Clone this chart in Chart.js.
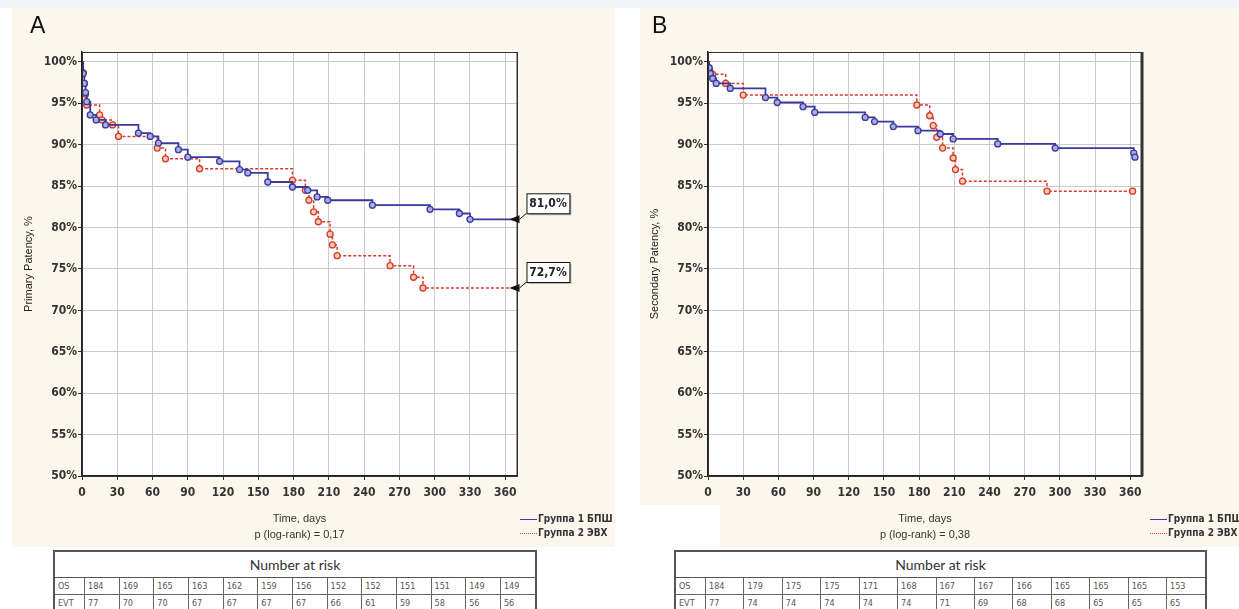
<!DOCTYPE html>
<html>
<head>
<meta charset="utf-8">
<script src="https://cdn.jsdelivr.net/npm/chart.js@4.4.1/dist/chart.umd.min.js"></script>
<style>
  body { margin: 0; width: 1239px; height: 609px; background: #fff; position: relative; overflow: hidden;
         font-family: 'Liberation Sans', Arial, sans-serif; }
  .strip { position: absolute; left: 0; top: 0; width: 1239px; height: 8px; background: #f2f4f8; }
  .panel { position: absolute; top: 8px; height: 539px; background: #fdf6ec; }
  .letter { position: absolute; top: 12px; font-size: 23px; color: #111; }
  .legend { position: absolute; top: 512px; font-family: 'Liberation Sans Narrow', 'DejaVu Sans Condensed', sans-serif;
            font-weight: bold; font-size: 10px; color: #333; white-space: nowrap; }
  .legend div { height: 14px; line-height: 14px; }
  .legend span.ln { display: inline-block; width: 17px; vertical-align: middle; margin-right: 1px; }
  table.risk { position: absolute; top: 550px; border-collapse: collapse; background: #fff;
               border: 2px solid #555; font-family: 'Liberation Sans Narrow', 'DejaVu Sans Condensed', sans-serif; }
  table.risk th { height: 25px; font-family: Lato, 'Noto Sans', sans-serif; font-weight: normal; font-size: 14px;
                  color: #333; border: 1px solid #555; padding: 0; }
  table.risk td { height: 16px; font-size: 9px; color: #555; border: 1px solid #666; padding: 0 0 0 3px; text-align: left; }
</style>
</head>
<body>
<div class="strip"></div>
<div class="panel" style="left:12px;width:603px;"><canvas id="chartA" width="603" height="539"></canvas></div>
<div class="panel" style="left:640px;width:599px;"><canvas id="chartB" width="599" height="539"></canvas></div>
<div style="position:absolute;left:640px;top:505px;width:80px;height:42px;background:#fff;"></div>
<div class="letter" style="left:30px;">A</div>
<div class="letter" style="left:652px;">B</div>
<div class="legend" id="legendA" style="left:520px;"></div>
<div class="legend" id="legendB" style="left:1150px;"></div>
<table class="risk" id="riskA" style="left:53px;width:484px;"></table>
<table class="risk" id="riskB" style="left:674px;width:533px;"></table>

<script>
// axes
const xTickValues = [0, 30, 60, 90, 120, 150, 180, 210, 240, 270, 300, 330, 360];
const yTickValues = [50, 55, 60, 65, 70, 75, 80, 85, 90, 95, 100];
const groupLabels = ['Группа 1 БПШ', 'Группа 2 ЭВХ'];

//* PANEL A - primary patency
const a1Days = [0, 1, 2, 3, 4, 7, 12, 20, 48, 58, 65, 82, 90, 117, 134, 141, 158, 179, 192, 200, 209, 247, 296, 321, 330, 367];
const a1Surv = [100, 98.6, 97.4, 96.3, 95.2, 93.6, 93.0, 92.4, 91.4, 91.0, 90.2, 89.4, 88.5, 88.0, 87.0, 86.6, 85.5, 84.9, 84.5, 83.7, 83.3, 82.7, 82.2, 81.7, 81.0, 81.0];
const a2Days = [0, 1, 2, 3, 4, 15, 17, 26, 31, 64, 71, 100, 179, 190, 193, 197, 201, 211, 213, 217, 262, 282, 290, 367];
const a2Surv = [100, 98.7, 97.4, 96.1, 94.8, 93.6, 93.0, 92.4, 91.0, 89.6, 88.3, 87.1, 85.7, 84.5, 83.3, 81.9, 80.7, 79.2, 77.9, 76.6, 75.4, 74.0, 72.7, 72.7];

//* PANEL B - secondary patency
const b1Days = [0, 1, 2, 4, 7, 19, 49, 59, 81, 91, 134, 142, 158, 179, 198, 209, 247, 296, 363, 364];
const b1Surv = [100, 99.3, 98.6, 98.0, 97.4, 96.8, 95.7, 95.1, 94.6, 93.9, 93.3, 92.8, 92.2, 91.7, 91.3, 90.7, 90.1, 89.6, 89.0, 88.5];
const b2Days = [0, 1, 2, 4, 15, 30, 178, 189, 192, 195, 200, 209, 211, 217, 289, 362];
const b2Surv = [100, 99.2, 98.8, 98.5, 97.4, 96.0, 94.8, 93.5, 92.3, 90.9, 89.6, 88.4, 87.0, 85.6, 84.4, 84.4];

//* NUMBER AT RISK
const riskRows = ['OS', 'EVT'];
const riskA_OS = [184, 169, 165, 163, 162, 159, 156, 152, 152, 151, 151, 149, 149];
const riskA_EVT = [77, 70, 70, 67, 67, 67, 67, 66, 61, 59, 58, 56, 56];
const riskB_OS = [184, 179, 175, 175, 171, 168, 167, 167, 166, 165, 165, 165, 153];
const riskB_EVT = [77, 74, 74, 74, 74, 74, 71, 69, 68, 68, 65, 65, 65];

const narrow = "'Liberation Sans Narrow', 'DejaVu Sans Condensed', sans-serif";
const blue = '#3a3a9c';
const red = '#d8392a';

function toPoints(days, surv) {
    return days.map((d, i) => ({ x: d, y: surv[i] }));
}

// white plot area, frame and end value boxes
const framePlugin = {
    id: 'frame',
    beforeDraw(chart) {
        const { ctx, chartArea: a } = chart;
        ctx.save();
        ctx.fillStyle = '#fff';
        ctx.fillRect(a.left, a.top, a.width, a.height);
        ctx.restore();
    },
    afterDraw(chart, args, opts) {
        const { ctx, chartArea: a } = chart;
        ctx.save();
        ctx.strokeStyle = '#333';
        ctx.lineWidth = 1;
        ctx.strokeRect(a.left + 0.5, a.top + 0.5, a.width, a.height);
        ctx.lineWidth = opts.rightWidth || 1;
        ctx.beginPath();
        ctx.moveTo(a.right, a.top);
        ctx.lineTo(a.right, a.bottom);
        ctx.stroke();
        if (opts.endLabels) {
            chart.data.datasets.forEach(ds => {
                const last = ds.data[ds.data.length - 1];
                const x = chart.scales.x.getPixelForValue(last.x);
                const y = chart.scales.y.getPixelForValue(last.y);
                ctx.fillStyle = '#111';
                ctx.beginPath();
                ctx.moveTo(x - 4, y);
                ctx.lineTo(x + 6, y - 4);
                ctx.lineTo(x + 6, y + 4);
                ctx.closePath();
                ctx.fill();
                const bx = x + 13, by = y - 26, bw = 43, bh = 20;
                ctx.strokeStyle = '#111';
                ctx.lineWidth = 1;
                ctx.beginPath();
                ctx.moveTo(x + 6, y);
                ctx.lineTo(bx, by + bh);
                ctx.stroke();
                ctx.fillStyle = '#bbb';
                ctx.fillRect(bx + 2, by + 2, bw, bh);
                ctx.fillStyle = '#fff';
                ctx.fillRect(bx, by, bw, bh);
                ctx.strokeRect(bx + 0.5, by + 0.5, bw, bh);
                ctx.fillStyle = '#222';
                ctx.font = 'bold 12px ' + narrow;
                ctx.textAlign = 'center';
                ctx.textBaseline = 'middle';
                ctx.fillText(last.y.toFixed(1).replace('.', ',') + '%', bx + bw / 2, by + bh / 2 + 1);
            });
        }
        ctx.restore();
    }
};

function kmChart(canvasId, series1, series2, yTitle, pText, padLeft, padRight, opts) {
    const data = {
        datasets: [{
            label: groupLabels[0],
            data: series1,
            borderColor: blue,
            borderWidth: 1.8,
            stepped: true,
            pointRadius: c => (c.dataIndex === 0 || (opts.hideLast && c.dataIndex === c.dataset.data.length - 1)) ? 0 : 3,
            pointBackgroundColor: '#a8ade6',
            pointBorderColor: blue,
            pointBorderWidth: 1.3,
        }, {
            label: groupLabels[1],
            data: series2,
            borderColor: red,
            borderWidth: 1.5,
            borderDash: [3, 2],
            stepped: true,
            pointRadius: c => (c.dataIndex === 0 || (opts.hideLast && c.dataIndex === c.dataset.data.length - 1)) ? 0 : 3,
            pointBackgroundColor: '#f7cdb0',
            pointBorderColor: red,
            pointBorderWidth: 1.3,
        }]
    };

    const config = {
        type: 'line',
        data: data,
        options: {
            responsive: false,
            animation: false,
            layout: { padding: { left: padLeft, right: padRight, top: 44, bottom: 4 } },
            scales: {
                x: {
                    type: 'linear',
                    min: 0,
                    max: 370,
                    afterBuildTicks: s => { s.ticks = xTickValues.map(v => ({ value: v })); },
                    afterFit: s => { s.height = 67; },
                    ticks: { color: '#333', padding: 6, maxRotation: 0, font: { family: narrow, size: 12, weight: 'bold' } },
                    grid: { color: '#cacaca', tickColor: '#333', tickLength: 4 },
                    border: { color: '#222', width: 1.5 },
                    title: {
                        display: true,
                        text: ['Time, days', pText],
                        color: '#333',
                        padding: 0,
                        font: { family: "'Liberation Sans', Arial, sans-serif", size: 11, lineHeight: 1.45 }
                    }
                },
                y: {
                    min: 50,
                    max: 101.2,
                    afterBuildTicks: s => { s.ticks = yTickValues.map(v => ({ value: v })); },
                    afterFit: s => { s.width = 60; },
                    ticks: { color: '#333', padding: 1, callback: v => v + '%', font: { family: narrow, size: 12, weight: 'bold' } },
                    grid: { color: '#cacaca', tickColor: '#333', tickLength: 4 },
                    border: { color: '#222', width: 1.5 },
                    title: {
                        display: true,
                        text: yTitle,
                        color: '#222',
                        padding: 0,
                        font: { family: "'Liberation Sans', Arial, sans-serif", size: 11 }
                    }
                }
            },
            plugins: {
                legend: { display: false },
                tooltip: { enabled: false },
                frame: { endLabels: opts.endLabels, rightWidth: opts.rightWidth }
            }
        },
        plugins: [framePlugin]
    };

    return new Chart(document.getElementById(canvasId), config);
}

function buildLegend(id) {
    const el = document.getElementById(id);
    el.innerHTML =
        `<div><span class="ln" style="border-top:1.5px solid ${blue}"></span>${groupLabels[0]}</div>` +
        `<div><span class="ln" style="border-top:1.5px dotted ${red}"></span>${groupLabels[1]}</div>`;
}

function buildRisk(id, os, evt) {
    const table = document.getElementById(id);
    let html = `<tr><th colspan="${os.length + 1}">Number at risk</th></tr>`;
    [os, evt].forEach((row, r) => {
        html += `<tr><td style="width:26px">${riskRows[r]}</td>` + row.map(v => `<td>${v}</td>`).join('') + '</tr>';
    });
    table.innerHTML = html;
}

kmChart('chartA', toPoints(a1Days, a1Surv), toPoints(a2Days, a2Surv), 'Primary Patency, %', 'p (log-rank) = 0,17', 10, 98,
    { endLabels: true, hideLast: true, rightWidth: 1 });
kmChart('chartB', toPoints(b1Days, b1Surv), toPoints(b2Days, b2Surv), 'Secondary Patency, %', 'p (log-rank) = 0,38', 8, 97,
    { endLabels: false, hideLast: false, rightWidth: 3 });

buildLegend('legendA');
buildLegend('legendB');
buildRisk('riskA', riskA_OS, riskA_EVT);
buildRisk('riskB', riskB_OS, riskB_EVT);
</script>
</body>
</html>
